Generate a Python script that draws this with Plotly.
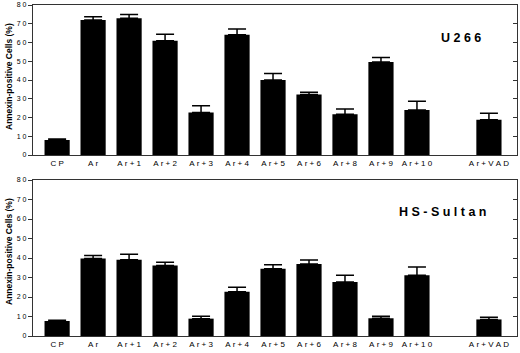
import plotly.graph_objects as go

categories = ["CP", "Ar", "Ar+1", "Ar+2", "Ar+3", "Ar+4", "Ar+5", "Ar+6", "Ar+8", "Ar+9", "Ar+10", "", "Ar+VAD"]
u266_values = [8.0, 72.0, 73.0, 61.0, 22.6, 64.2, 40.0, 32.2, 21.7, 49.6, 24.0, None, 18.8]
u266_err = [0.5, 1.8, 2.0, 3.4, 3.6, 3.0, 3.5, 1.2, 2.8, 2.4, 4.6, None, 3.4]
hs_values = [7.7, 39.8, 39.1, 36.2, 8.9, 22.7, 34.5, 36.9, 27.7, 9.1, 31.1, None, 8.5]
hs_err = [0.4, 1.5, 2.8, 1.6, 1.2, 2.3, 2.0, 2.1, 3.5, 1.0, 4.3, None, 1.1]
panel_titles = ["U266", "HS-Sultan"]
y_tickvals = [0, 10, 20, 30, 40, 50, 60, 70, 80]
y_title = "Annexin-positive Cells (%)"

NB = "\u00a0"

def spaced(s, sep=NB):
    return sep.join(list(s))

W, H = 520, 353
fig = go.Figure()

xdom = [33 / W, 517 / W]
ydoms = [[1 - 155 / H, 1 - 5 / H], [1 - 336 / H, 1 - 180 / H]]
FONT = "Arial, Liberation Sans"

for i, (vals, errs) in enumerate([(u266_values, u266_err), (hs_values, hs_err)]):
    xa = "x" if i == 0 else "x2"
    ya = "y" if i == 0 else "y2"
    idx = list(range(len(categories)))
    fig.add_trace(go.Bar(
        x=idx, y=vals, xaxis=xa, yaxis=ya,
        marker=dict(color="black", line=dict(width=0)),
        width=0.7,
        error_y=dict(type="data", symmetric=False, array=errs,
                     arrayminus=[0] * len(errs), color="black",
                     thickness=1.5, width=9),
        showlegend=False, hoverinfo="skip",
    ))

axis_common = dict(showline=True, linecolor="#333", linewidth=1.2, mirror=True,
                   showgrid=False, zeroline=False)

for i in range(2):
    suffix = "" if i == 0 else "2"
    fig.layout["xaxis" + suffix] = dict(
        domain=xdom, anchor="y" + suffix, range=[-0.67, 12.78],
        tickmode="array", tickvals=list(range(len(categories))),
        ticktext=[spaced(c) for c in categories], ticks="",
        tickfont=dict(family=FONT, size=8, color="black"),
        **axis_common)
    fig.layout["yaxis" + suffix] = dict(
        domain=ydoms[i], anchor="x" + suffix, range=[0, 80],
        tickmode="array", tickvals=y_tickvals,
        ticktext=[spaced(str(v)) for v in y_tickvals],
        ticks="outside", ticklen=4, tickcolor="#333",
        tickfont=dict(family=FONT, size=7, color="black"),
        **axis_common)

# right-side ticks via overlay axes
for i in range(2):
    suffix = "3" if i == 0 else "4"
    base = "y" if i == 0 else "y2"
    fig.layout["yaxis" + suffix] = dict(
        overlaying=base, side="right", anchor="x" if i == 0 else "x2",
        range=[0, 80], tickvals=y_tickvals, ticks="inside", ticklen=4,
        tickcolor="#333", showticklabels=False, showgrid=False, zeroline=False,
        showline=False)
    fig.add_trace(go.Scatter(x=[None], y=[None], xaxis="x" if i == 0 else "x2",
                             yaxis="y" + suffix, showlegend=False, hoverinfo="skip"))

annotations = []
title_pos = [(461, 38), (443, 212)]
for i, t in enumerate(panel_titles):
    annotations.append(dict(text="<b>" + spaced(t) + "</b>", x=title_pos[i][0] / W, y=1 - title_pos[i][1] / H,
                            xref="paper", yref="paper", showarrow=False,
                            xanchor="center", yanchor="middle",
                            font=dict(family=FONT, size=12.5, color="black")))
for yc in [77, 252]:
    annotations.append(dict(text="<b>" + y_title + "</b>", x=9 / W, y=1 - yc / H,
                            xref="paper", yref="paper", showarrow=False, textangle=-90,
                            xanchor="center", yanchor="middle",
                            font=dict(family=FONT, size=8.5, color="black")))

fig.update_layout(width=W, height=H, margin=dict(l=0, r=0, t=0, b=0, autoexpand=False),
                  plot_bgcolor="white", paper_bgcolor="white",
                  annotations=annotations, bargap=0.3)

fig.write_html("out.html", config={"displayModeBar": False},
               post_script="document.body.style.margin='0';document.body.style.overflow='hidden';")
